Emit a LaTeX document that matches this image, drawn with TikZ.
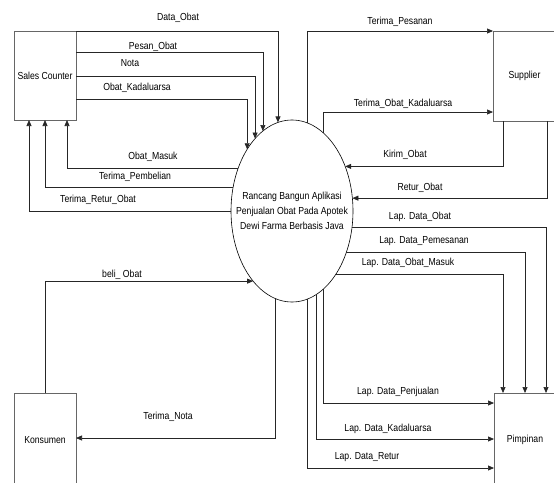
\documentclass[tikz,border=0pt]{standalone}
\usepackage{fontspec}
\setmainfont{Liberation Sans}[FakeStretch=0.85]
\usetikzlibrary{arrows.meta,shapes.geometric}

\tikzset{
  entity/.style={draw=black!60, line width=0.9pt, minimum width=62pt, inner sep=0pt,
    outer sep=0pt, font=\fontsize{10.2}{15}\selectfont},
  proc/.style={ellipse, draw=black, line width=0.6pt, minimum width=122pt,
    minimum height=182pt, inner sep=0pt, outer sep=0pt},
  flow/.style={draw=black!85, line width=0.7pt, -{Triangle[length=6pt,width=5pt]}},
  lbl/.style={inner sep=0pt, font=\fontsize{10.2}{12}\selectfont}
}

\begin{document}
\begin{tikzpicture}[x=1pt, y=-1pt]
\useasboundingbox (0,0) rectangle (554,482);
\clip (0,0) rectangle (554,482);

% external entities and the process
\node[entity, minimum height=89pt] (SC) at (45,75.5) {Sales Counter};
\node[entity, minimum width=63pt, minimum height=90pt] (SU) at (524.5,76) {Supplier};
\node[entity, minimum height=94pt] (PI) at (525,440) {Pimpinan};
\node[entity, minimum height=94pt] (KO) at (45,440) {Konsumen};
\node[proc] (P) at (292,211) {};
\node[align=center, inner sep=0pt, font=\fontsize{10.2}{15}\selectfont] (Pt) at (P.center)
  {Rancang Bangun Aplikasi\\Penjualan Obat Pada Apotek\\Dewi Farma Berbasis Java};

% Sales Counter -> process
\draw[flow] (SC.north east) -| (P.99);
\draw[flow] ([yshift=-21pt]SC.north east) -| (P.110.75);
\draw[flow] ([yshift=-45pt]SC.north east) -| (P.117.1);
\draw[flow] ([yshift=-68pt]SC.north east) -| (P.126.2);
\node[lbl] (l1) at (178,18) {Data\_Obat};
\node[lbl] (l2) at (153,47) {Pesan\_Obat};
\node[lbl] (l3) at (130,63) {Nota};
\node[lbl] (l4) at (137,88) {Obat\_Kadaluarsa};

% process -> Sales Counter
\draw[flow] (P.142.2) -| ([xshift=53pt]SC.south west);
\draw[flow] (P.158.7) -| ([xshift=31pt]SC.south west);
\draw[flow] (P.180.9) -| ([xshift=15pt]SC.south west);
\node[lbl] (l5) at (153,157) {Obat\_Masuk};
\node[lbl] (l6) at (135,177) {Terima\_Pembelian};
\node[lbl] (l7) at (98,200) {Terima\_Retur\_Obat};

% process <-> Supplier
\draw[flow] (P.80.35) |- (SU.north west);
\draw[flow] (P.68.43) |- ([yshift=-81pt]SU.north west);
\draw[flow] ([xshift=10pt]SU.south west) |- (P.40.33);
\draw[flow] ([xshift=54pt]SU.south west) |- (P.12.15);
\node[lbl] (l8) at (400,22) {Terima\_Pesanan};
\node[lbl] (l9) at (403,104) {Terima\_Obat\_Kadaluarsa};
\node[lbl] (l10) at (405,155) {Kirim\_Obat};
\node[lbl] (l11) at (420,188) {Retur\_Obat};

% process -> Pimpinan
\draw[flow] (P.-15.84) -| ([xshift=52pt]PI.north west);
\draw[flow] (P.-37.83) -| ([xshift=31pt]PI.north west);
\draw[flow] (P.-55.86) -| ([xshift=9pt]PI.north west);
\draw[flow] (P.-68.43) |- ([yshift=-10pt]PI.north west);
\draw[flow] (P.-74) |- ([yshift=-46pt]PI.north west);
\draw[flow] (P.-80.35) |- ([yshift=-75pt]PI.north west);
\node[lbl] (l12) at (420,217) {Lap. Data\_Obat};
\node[lbl] (l13) at (424,241) {Lap. Data\_Pemesanan};
\node[lbl] (l14) at (408,263) {Lap. Data\_Obat\_Masuk};
\node[lbl] (l15) at (398,392) {Lap. Data\_Penjualan};
\node[lbl] (l16) at (388,429) {Lap. Data\_Kadaluarsa};
\node[lbl] (l17) at (367,457) {Lap. Data\_Retur};

% Konsumen <-> process
\draw[flow] ([xshift=31pt]KO.north west) |- (P.241.7);
\draw[flow] (P.259.67) |- ([yshift=-45pt]KO.north east);
\node[lbl] (l18) at (122,275) {beli\_ Obat};
\node[lbl] (l19) at (168,417) {Terima\_Nota};
\end{tikzpicture}
\end{document}
